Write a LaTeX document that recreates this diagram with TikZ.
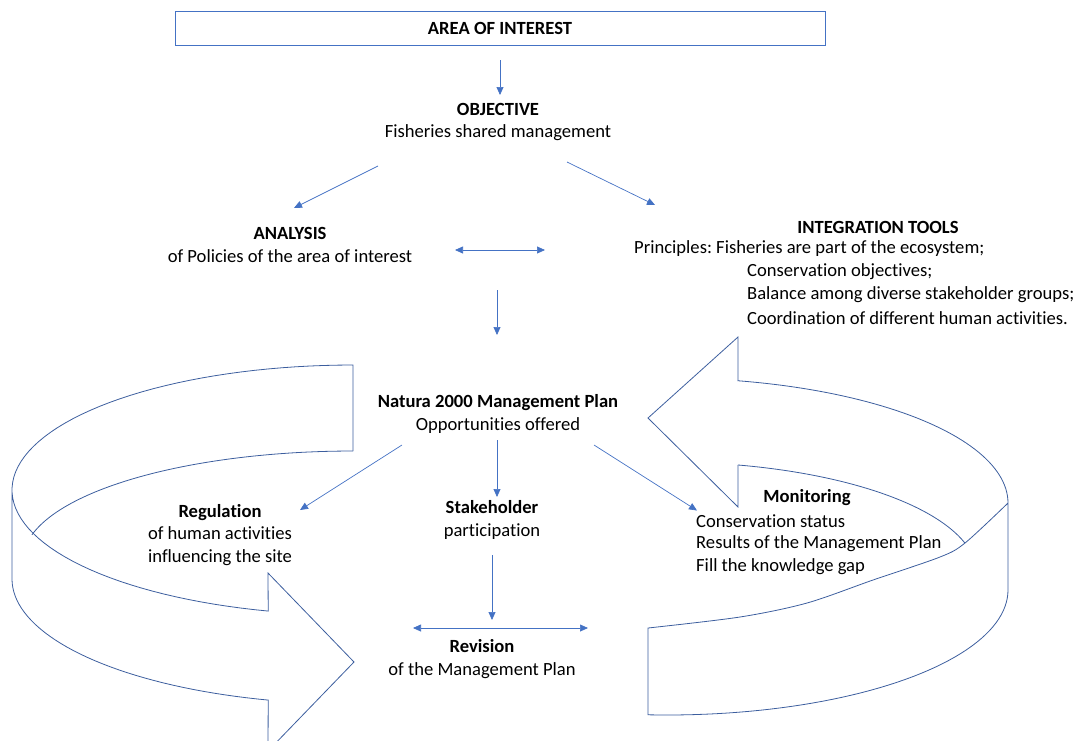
\documentclass[tikz,border=0pt]{standalone}
\usepackage{fontspec}
\setmainfont{Carlito}[Ligatures={NoCommon}]
\usepackage{tikz}
\usetikzlibrary{arrows.meta}
\definecolor{arrowBlue}{HTML}{4472C4}
\definecolor{ribbonBlue}{HTML}{3C5E9E}
\frenchspacing

\begin{document}
\begin{tikzpicture}[
    x=1pt, y=-1pt,
    lbl/.style={inner sep=0pt, align=center, font=\fontsize{18.6}{22.8}\selectfont},
    box/.style={draw=arrowBlue, thin, minimum width=650pt, minimum height=34pt, inner sep=0pt, font=\fontsize{18.6}{22.8}\selectfont},
    arr/.style={-{Triangle[length=8pt,width=7pt]}, arrowBlue, line width=0.7pt},
    dblarr/.style={{Triangle[length=8pt,width=7pt]}-{Triangle[length=8pt,width=7pt]}, arrowBlue, line width=0.7pt},
    ribbon/.style={draw=ribbonBlue, line width=0.8pt, line join=miter},
  ]
    \useasboundingbox (0,0) rectangle (1078,740);
    \clip (0,0) rectangle (1078,740);

    % left loop arrow
    \draw[ribbon] (353,451) -- (353,365)
      -- plot[domain=270:104.4, samples=70] ({353+341*cos(\x)}, {490+125*sin(\x)})
      -- (268,573) -- (354,662) -- (268,751)
      -- plot[domain=104.4:180, samples=40] ({353+341*cos(\x)}, {579+125*sin(\x)})
      -- (12,490);
    \draw[ribbon] plot[domain=270:193.4, samples=50] ({353+330*cos(\x)}, {560+109*sin(\x)});

    % right loop arrow
    \draw[ribbon] (738,465) -- (738,507) -- (648,418) -- (738,337) -- (738,379)
      -- plot[domain=282:360, samples=50] ({667+341*cos(\x)}, {503+125*sin(\x)})
      -- (1008,590)
      -- plot[domain=0:93.2, samples=50] ({667+341*cos(\x)}, {590+125*sin(\x)})
      -- (648,628)
      -- plot[smooth] coordinates {(648,628) (740,617) (807,603) (873,580) (940,557) (965,543) (1008,503)};
    \draw[ribbon] plot[domain=283.2:344, samples=50] ({667+310*cos(\x)}, {574+112*sin(\x)});

    % texts
    \node[box] (area) at (500,28) {\textbf{AREA OF INTEREST}};
    \node[lbl] (obj) at (498,122) {\textbf{OBJECTIVE}\\Fisheries shared management};
    \node[lbl] (analysis) at (290,245) {\textbf{ANALYSIS}\\of Policies of the area of interest};
    \node[lbl] (integ) at (878,227) {\textbf{INTEGRATION TOOLS}};
    \node[lbl, anchor=west] (princ) at (634,249) {Principles: Fisheries are part of the ecosystem;};
    \foreach \i/\txt in {1/Conservation objectives;,2/Balance among diverse stakeholder groups;,3/Coordination of different human activities.}
      \node[lbl, anchor=west] (p\i) at (747,249+23*\i) {\txt};
    \node[lbl] (natura) at (498,414) {\textbf{Natura 2000 Management Plan}\\Opportunities offered};
    \node[lbl] (reg) at (220,535) {\textbf{Regulation}\\of human activities\\influencing the site};
    \node[lbl] (stake) at (492,520) {\textbf{Stakeholder}\\participation};
    \node[lbl] (mon) at (807,498) {\textbf{Monitoring}};
    \foreach \i/\txt in {1/Conservation status,2/Results of the Management Plan,3/Fill the knowledge gap}
      \node[lbl, anchor=west] (m\i) at (696,499+22.5*\i) {\txt};
    \node[lbl] (rev) at (482,659) {\textbf{Revision}\\of the Management Plan};

    % connectors
    \draw[arr] ([yshift=-15pt]area.south) -- ([shift={(2,-27)}]obj.center);
    \draw[arr] ([shift={(-120,44)}]obj.center) -- ([shift={(4,-37)}]analysis.center);
    \draw[arr] ([shift={(69,40)}]obj.center) -- ([shift={(-223,-22)}]integ.center);
    \draw[dblarr] ([shift={(165,5)}]analysis.center) -- ([shift={(-89,1)}]princ.west);
    \draw[arr] ([shift={(207,45)}]analysis.center) -- ([shift={(-1,-79)}]natura.center);
    \draw[arr] ([shift={(-96,31)}]natura.center) -- ([shift={(80,-25)}]reg.center);
    \draw[arr] ([shift={(-1,26)}]natura.center) -- ([shift={(5,-23)}]stake.center);
    \draw[arr] ([shift={(96,31)}]natura.center) -- ([shift={(1,-11)}]m1.west);
    \draw[arr] ([shift={(0,35)}]stake.center) -- ([shift={(10,-39)}]rev.center);
    \draw[dblarr] ([shift={(-69,-31)}]rev.center) -- ([shift={(106,-31)}]rev.center);
\end{tikzpicture}
\end{document}
